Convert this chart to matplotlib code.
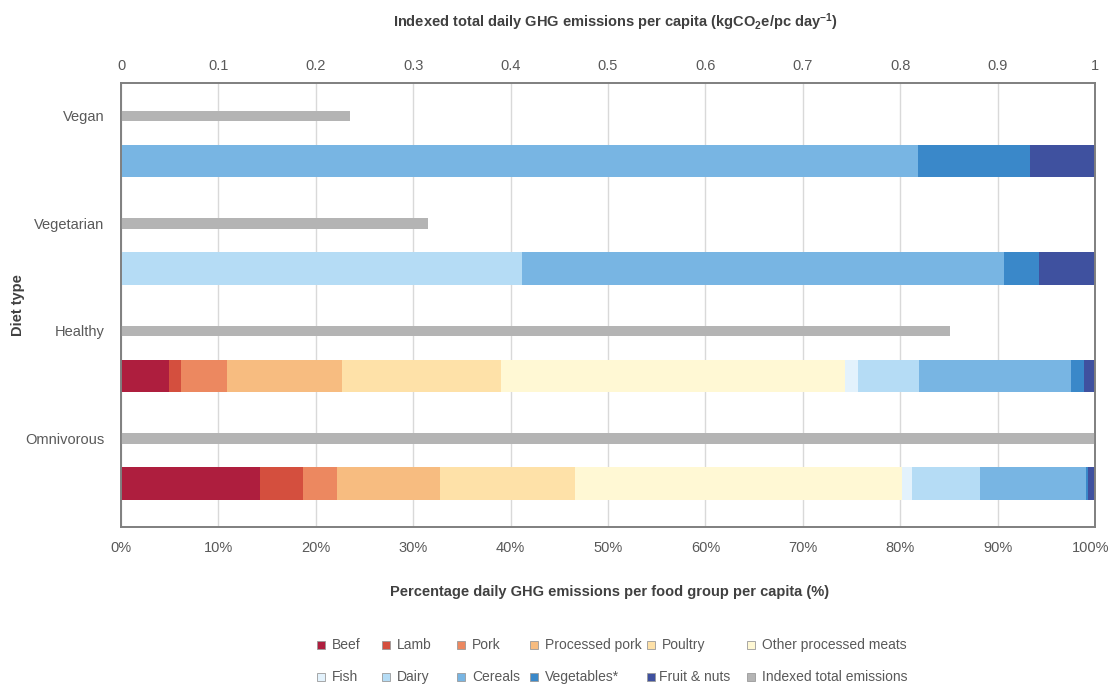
import numpy as np
import matplotlib
matplotlib.use('Agg')
import matplotlib.pyplot as plt
from matplotlib.lines import Line2D
from matplotlib.transforms import ScaledTranslation

plt.rcParams['font.family'] = ['Liberation Sans', 'DejaVu Sans']
plt.rcParams['mathtext.fontset'] = 'custom'
plt.rcParams['mathtext.rm'] = 'Liberation Sans:bold'
plt.rcParams['mathtext.it'] = 'Liberation Sans:bold'

# diets, top to bottom
diets = ['Vegan', 'Vegetarian', 'Healthy', 'Omnivorous']

# share of daily GHG emissions per food group (%)
beef = [0, 0, 4.9, 14.3]
lamb = [0, 0, 1.3, 4.4]
pork = [0, 0, 4.7, 3.5]
processed_pork = [0, 0, 11.8, 10.6]
poultry = [0, 0, 16.3, 13.8]
other_processed = [0, 0, 35.3, 33.6]
fish = [0, 0, 1.4, 1.0]
dairy = [0, 41.2, 6.2, 7.0]
cereals = [81.8, 49.5, 15.6, 10.9]
vegetables = [11.5, 3.5, 1.4, 0.2]
fruit_nuts = [6.7, 5.8, 1.1, 0.7]

# indexed total daily emissions (omnivorous = 1)
indexed_total = [0.235, 0.315, 0.851, 1.0]

groups = ['Beef', 'Lamb', 'Pork', 'Processed pork', 'Poultry', 'Other processed meats',
          'Fish', 'Dairy', 'Cereals', 'Vegetables*', 'Fruit & nuts']
series = [beef, lamb, pork, processed_pork, poultry, other_processed,
          fish, dairy, cereals, vegetables, fruit_nuts]
colors = ['#AE1E3E', '#D44F3E', '#EC8860', '#F7BC80', '#FEE1A8', '#FFF8D4',
          '#E3F2FC', '#B5DCF5', '#78B5E3', '#3A88C9', '#3F519F']
gray = '#B4B4B4'

W, H = 1110, 686
fig = plt.figure(figsize=(W / 100, H / 100), dpi=100)
ax = fig.add_axes([121 / W, 1 - 527 / H, 974 / W, 444 / H])

y = np.arange(len(diets))
left = np.zeros(len(diets))
for vals, c in zip(series, colors):
    ax.barh(y + 0.21, vals, left=left, height=0.30, color=c, linewidth=0)
    left += np.array(vals)

ax.set_xlim(0, 100)
ax.set_ylim(3.614, -0.516)
ax.set_xticks(np.arange(0, 101, 10))
ax.set_xticklabels([f'{v}%' for v in range(0, 101, 10)])
ax.set_yticks(y - 0.21)
ax.set_yticklabels(diets)
ax.grid(axis='x', color='#D9D9D9', linewidth=1)
ax.set_axisbelow(True)
ax.tick_params(axis='x', length=0, pad=10, labelsize=10.5, labelcolor='#595959')
ax.tick_params(axis='y', length=0, pad=12, labelsize=10.5, labelcolor='#595959')

# keep "100%" inside the canvas
last = ax.get_xticklabels()[-1]
last.set_transform(last.get_transform() + ScaledTranslation(-3 / 72, 0, fig.dpi_scale_trans))

ax2 = ax.twiny()
ax2.barh(y - 0.21, indexed_total, height=0.10, color=gray, linewidth=0)
ax2.set_xlim(0, 1)
ax2.set_xticks(np.arange(0, 1.01, 0.1))
ax2.set_xticklabels(['0'] + [f'{v:.1f}' for v in np.arange(0.1, 0.95, 0.1)] + ['1'])
ax2.tick_params(axis='x', length=0, pad=7, labelsize=10.5, labelcolor='#595959')

for a in (ax, ax2):
    for s in a.spines.values():
        s.set_color('#7F7F7F')
        s.set_linewidth(1.2)

title_kw = dict(fontsize=10.5, fontweight='bold', color='#404040', ha='center', va='center')
fig.text(615 / W, 1 - 22 / H,
         r'Indexed total daily GHG emissions per capita (kgCO$_2$e/pc day$^{-1}$)', **title_kw)
fig.text(610 / W, 1 - 592 / H,
         'Percentage daily GHG emissions per food group per capita (%)', **title_kw)
fig.text(18 / W, 1 - 305 / H, 'Diet type', rotation=90, **title_kw)

# legend, two rows of six
legend_labels = groups + ['Indexed total emissions']
legend_colors = colors + [gray]
col_x = [321, 386, 461, 534, 651, 751]
row_y = [645, 677]
for i, (lab, c) in enumerate(zip(legend_labels, legend_colors)):
    r, k = divmod(i, 6)
    px, py = col_x[k], row_y[r]
    fig.add_artist(Line2D([px / W], [1 - py / H], marker='s', markersize=6,
                          markerfacecolor=c, markeredgecolor='#9A9A9A',
                          markeredgewidth=0.6, linestyle='none',
                          transform=fig.transFigure))
    tx = px + (8 if lab == 'Fruit & nuts' else 11)
    fig.text(tx / W, 1 - py / H, lab, fontsize=10, color='#595959',
             ha='left', va='center')

fig.savefig('out.png', dpi=100)
